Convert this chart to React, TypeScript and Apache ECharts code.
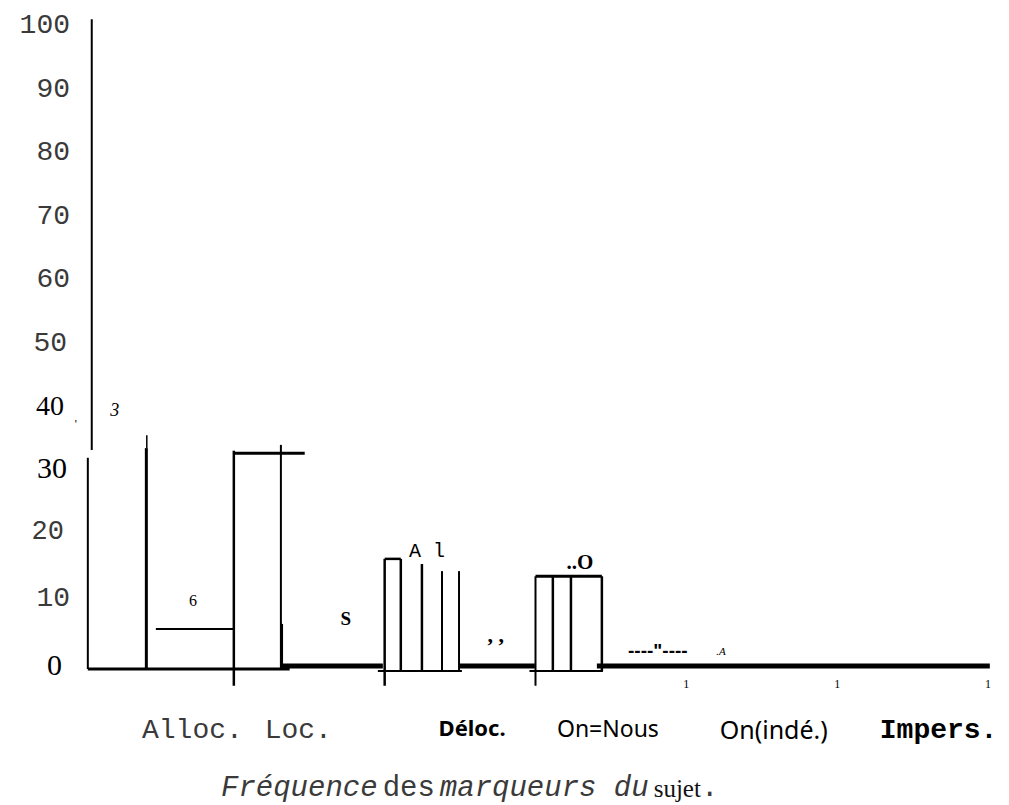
import React, { useEffect, useRef } from "react";
import * as echarts from "echarts";

// Categories of the x axis
const categories = ["Alloc.", "Loc.", "Déloc.", "On=Nous", "On(indé.)", "Impers."];

// Value axis ticks (percent)
const yMin = 0;
const yMax = 100;
const yStep = 10;

// Secondary x scale (category units) carrying the stray "1" marks
const unitMarks = [4, 5, 6];

// Outline strokes of the histogram:
// [xStart, valueStart, xEnd, valueEnd] in category units / percent
const outlineSegments: number[][] = [
  [0.058, 34.0, 0.058, 100.9],
  [0.032, 0, 0.032, 32.8],
  [0.423, 34.3, 0.423, 36.3],
  [0.42, 0, 0.42, 34.3],
  [0.032, 0, 1.37, 0],
  [0.483, 6.2, 1.0, 6.2],
  [1.0, -2.6, 1.0, 33.9],
  [1.0, 33.5, 1.47, 33.5],
  [1.312, 0, 1.312, 34.8],
  [1.318, 0.3, 1.318, 7.0],
  [1.318, 0.45, 1.988, 0.45],
  [1.955, -0.3, 2.512, -0.3],
  [2.0, -2.6, 2.0, 17.1],
  [2.0, 17.1, 2.107, 17.1],
  [2.107, -0.3, 2.107, 17.1],
  [2.247, -0.3, 2.247, 16.3],
  [2.38, -0.3, 2.38, 15.2],
  [2.493, -0.3, 2.493, 15.2],
  [2.493, 0.45, 2.996, 0.45],
  [2.96, -0.3, 3.447, -0.3],
  [3.0, -2.6, 3.0, 14.4],
  [3.0, 14.4, 3.44, 14.4],
  [3.115, -0.3, 3.115, 14.4],
  [3.235, -0.3, 3.235, 14.4],
  [3.44, -0.3, 3.44, 14.4],
  [3.407, 0.45, 6.012, 0.45],
];

// Annotations printed inside the plot: anchor [x, value] and text
const annotationAnchors: number[][] = [
  [-0.048, 38.0],
  [0.211, 40.2],
  [0.73, 10.6],
  [1.742, 7.8],
  [2.28, 18.3],
  [2.737, 5.3],
  [3.294, 16.6],
  [3.811, 2.9],
  [4.23, 2.8],
];
const annotationTexts = ["'", "3", "6", "S", "A l", ", ,", "..O", "----\"----", ".A"];

// ---- styling (kept apart from the data) ----
const strokeWeights = [
  2, 2, 1.5, 3, 3, 2, 2.5, 3, 2, 2.5, 5, 2, 2.5, 2.5, 2.5, 2.5, 2, 2, 5, 2, 2, 3, 2.5, 2.5, 2.5, 5,
];
const annotationFonts = [
  "12px 'Liberation Serif'",
  "italic 18px 'Liberation Serif'",
  "16px 'Liberation Serif'",
  "bold 19px 'Liberation Serif'",
  "20px 'Liberation Mono'",
  "bold 22px 'Liberation Serif'",
  "bold 21px 'Liberation Serif'",
  "bold 19px 'Liberation Sans'",
  "italic 11px 'Liberation Serif'",
];

const mono = "'Liberation Mono', 'DejaVu Sans Mono', monospace";
const serif = "'Liberation Serif', 'DejaVu Serif', serif";
const thin = "#3a3a3a";

const yRich: Record<string, any> = {
  k100: { fontFamily: mono, fontSize: 28, color: thin, padding: [0, 0, 0, 0] },
  k90: { fontFamily: mono, fontSize: 28, color: thin, padding: [0, 0, 0, 0] },
  k80: { fontFamily: mono, fontSize: 28, color: thin, padding: [0, 0, 2, 0] },
  k70: { fontFamily: mono, fontSize: 28, color: thin, padding: [0, 0, 4, 0] },
  k60: { fontFamily: mono, fontSize: 28, color: thin, padding: [0, 0, 6, 0] },
  k50: { fontFamily: mono, fontSize: 28, color: thin, padding: [0, 3, 8, 0] },
  k40: { fontFamily: serif, fontSize: 28, color: "#000", padding: [0, 6, 12, 0] },
  k30: { fontFamily: serif, fontSize: 30, color: "#000", padding: [0, 3, 16, 0] },
  k20: { fontFamily: mono, fontSize: 27, color: thin, padding: [0, 6, 16, 0] },
  k10: { fontFamily: mono, fontSize: 28, color: thin, padding: [0, 0, 12, 0] },
  k0: { fontFamily: serif, fontSize: 30, color: "#000", padding: [0, 8, 10, 0] },
};

const hand = "'Noto Sans', 'DejaVu Sans', sans-serif";
const xRich: Record<string, any> = {
  c0: { fontFamily: mono, fontSize: 28, color: thin, padding: [0, 0, 0, 68] },
  c1: { fontFamily: mono, fontSize: 28, color: thin, padding: [0, 22, 0, 0] },
  c2: { fontFamily: hand, fontSize: 22, fontWeight: "bold", color: "#000", padding: [0, 0, 0, 24] },
  c3: { fontFamily: hand, fontSize: 23, color: "#000", padding: [0, 6, 0, 0] },
  c4: { fontFamily: hand, fontSize: 25, color: "#000", padding: [0, 0, 0, 24] },
  c5: { fontFamily: mono, fontSize: 28, fontWeight: "bold", color: "#000", padding: [0, 0, 0, 52] },
};

export default function App() {
  const ref = useRef<HTMLDivElement>(null);
  useEffect(() => {
    if (!ref.current) return;
    const chart = echarts.init(ref.current, undefined, { renderer: "svg" });
    chart.setOption({
      animation: false,
      backgroundColor: "#ffffff",
      title: {
        text: "{i|Fréquence} {r|des} {i|marqueurs du} {s|sujet}{r|.}",
        left: 221,
        top: 773,
        padding: 0,
        textStyle: {
          fontWeight: "normal",
          rich: {
            i: { fontFamily: mono, fontStyle: "italic", fontWeight: "normal", fontSize: 29, color: thin, lineHeight: 30 },
            r: { fontFamily: mono, fontWeight: "normal", fontSize: 29, color: thin, lineHeight: 30 },
            s: { fontFamily: serif, fontWeight: "normal", fontSize: 25, color: "#111", lineHeight: 30 },
          },
        },
      },
      grid: { left: 83, right: 21, top: 25, bottom: 136, outerBoundsMode: "none" },
      xAxis: [
        {
          type: "category",
          position: "bottom",
          data: categories,
          boundaryGap: true,
          axisLine: { show: false },
          axisTick: { show: false },
          splitLine: { show: false },
          axisLabel: {
            margin: 47,
            color: "#000",
            interval: 0,
            formatter: (v: string, i: number) => `{c${i}|${v}}`,
            rich: xRich,
          },
        },
        {
          type: "value",
          position: "bottom",
          min: 0,
          max: 6,
          interval: 1,
          axisLine: { show: false },
          axisTick: { show: false },
          splitLine: { show: false },
          axisLabel: {
            margin: 9,
            color: "#000",
            fontFamily: serif,
            fontSize: 12,
            formatter: (v: number) => (unitMarks.includes(v) ? "1" : ""),
          },
        },
      ],
      yAxis: {
        type: "value",
        min: yMin,
        max: yMax,
        interval: yStep,
        axisLine: { show: false },
        axisTick: { show: false },
        splitLine: { show: false },
        axisLabel: {
          margin: 13,
          color: "#000",
          formatter: (v: number) => `{k${v}|${v}}`,
          rich: yRich,
        },
      },
      series: [
        {
          type: "custom",
          xAxisIndex: 1,
          yAxisIndex: 0,
          clip: false,
          data: outlineSegments,
          renderItem: (params: any, api: any) => {
            const a = api.coord([api.value(0), api.value(1)]);
            const b = api.coord([api.value(2), api.value(3)]);
            return {
              type: "line",
              shape: { x1: a[0], y1: a[1], x2: b[0], y2: b[1] },
              style: { stroke: "#000", lineWidth: strokeWeights[params.dataIndex] },
            };
          },
        },
        {
          type: "custom",
          xAxisIndex: 1,
          yAxisIndex: 0,
          clip: false,
          data: annotationAnchors,
          renderItem: (params: any, api: any) => {
            const p = api.coord([api.value(0), api.value(1)]);
            return {
              type: "text",
              x: p[0],
              y: p[1],
              style: {
                text: annotationTexts[params.dataIndex],
                font: annotationFonts[params.dataIndex],
                fill: "#000",
                align: "center",
                verticalAlign: "middle",
              },
            };
          },
        },
      ],
    });
    return () => chart.dispose();
  }, []);
  return (
    <div
      ref={ref}
      style={{ position: "fixed", left: 0, top: 0, width: 1009, height: 805, background: "#fff" }}
    />
  );
}
